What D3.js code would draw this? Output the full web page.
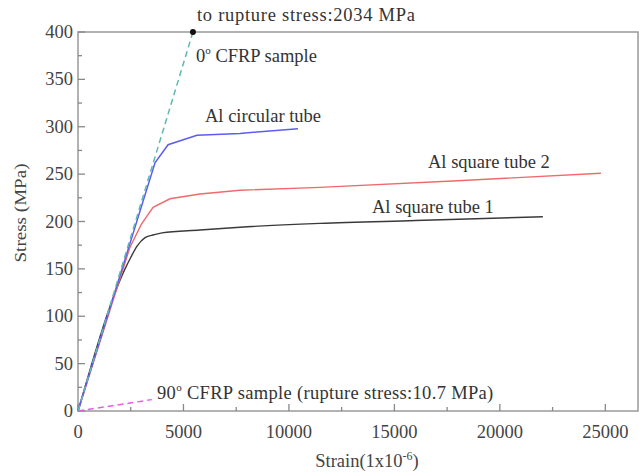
<!DOCTYPE html>
<html>
<head>
<meta charset="utf-8">
<script src="https://cdn.jsdelivr.net/npm/d3@7"></script>
<style>
  body { margin: 0; background: #fff; }
  svg text { font-family: "Liberation Serif", "Times New Roman", serif; }
</style>
</head>
<body>
<div id="chart"></div>
<script>
// curves: [strain (1e-6), stress (MPa)]
const squareTube1 = [[0,0],[2230,150],[2500,162],[2800,174],[3180,183],[3600,186],[3980,188],[5780,191],[7680,194],[11470,198],[16000,201],[22040,205]];
const squareTube2 = [[0,0],[2450,172],[3000,197],[3560,215],[4360,224],[5780,229],[7680,233],[11470,236],[18000,243],[24790,251]];
const circularTube = [[0,0],[3650,262],[4270,281],[5640,291],[7680,293],[10430,298]];
const cfrp0 = [[0,0],[5450,400]];
const cfrp90 = [[0,0],[3500,12]];

const xTicks = [0, 5000, 10000, 15000, 20000, 25000];
const yTicks = [0, 50, 100, 150, 200, 250, 300, 350, 400];

const width = 639, height = 474;
const margin = {top: 32, right: 1, bottom: 63, left: 78};
const fs = 18.5; // font size, text in the picture is rather wide

const svg = d3.select("#chart").append("svg")
    .attr("width", width)
    .attr("height", height);

const x = d3.scaleLinear().domain([0, 26550]).range([margin.left, width - margin.right]);
const y = d3.scaleLinear().domain([0, 400]).range([height - margin.bottom, margin.top]);

const g = svg.append("g");

// frame
g.append("rect")
    .attr("x", x(0)).attr("y", y(400))
    .attr("width", x.range()[1] - x(0)).attr("height", y(0) - y(400))
    .attr("fill", "none").attr("stroke", "#999").attr("stroke-width", 1.5);

// ticks, pointing inward
const xMinor = d3.range(2500, 26550, 5000);
g.selectAll(".xt").data(xTicks).join("line")
    .attr("x1", d => x(d)).attr("x2", d => x(d))
    .attr("y1", y(0)).attr("y2", y(0) - 7)
    .attr("stroke", "#888").attr("stroke-width", 1.3);
g.selectAll(".xm").data(xMinor).join("line")
    .attr("x1", d => x(d)).attr("x2", d => x(d))
    .attr("y1", y(0)).attr("y2", y(0) - 4)
    .attr("stroke", "#888").attr("stroke-width", 1.3);
g.selectAll(".yt").data(yTicks).join("line")
    .attr("x1", x(0)).attr("x2", x(0) + 7)
    .attr("y1", d => y(d)).attr("y2", d => y(d))
    .attr("stroke", "#888").attr("stroke-width", 1.3);
g.selectAll(".ym").data(d3.range(25, 400, 50)).join("line")
    .attr("x1", x(0)).attr("x2", x(0) + 4)
    .attr("y1", d => y(d)).attr("y2", d => y(d))
    .attr("stroke", "#888").attr("stroke-width", 1.3);

// tick labels
g.selectAll(".xl").data(xTicks).join("text")
    .attr("x", d => x(d)).attr("y", y(0) + 27)
    .attr("text-anchor", "middle")
    .attr("font-size", fs).attr("fill", "#444")
    .text(d => d);
g.selectAll(".yl").data(yTicks).join("text")
    .attr("x", x(0) - 5).attr("y", d => y(d) + 6)
    .attr("text-anchor", "end")
    .attr("font-size", fs).attr("fill", "#444")
    .text(d => d);

// axis titles
const xt = svg.append("text")
    .attr("x", 367).attr("y", 467)
    .attr("text-anchor", "middle")
    .attr("font-size", fs).attr("fill", "#444")
    .text("Strain(1x10");
xt.append("tspan").attr("dy", -7).attr("font-size", 12).text("-6");
xt.append("tspan").attr("dy", 7).text(")");

svg.append("text")
    .attr("transform", "translate(26,213) rotate(-90)")
    .attr("text-anchor", "middle")
    .attr("font-size", 17).attr("fill", "#444")
    .attr("textLength", 99).attr("lengthAdjust", "spacingAndGlyphs")
    .text("Stress (MPa)");

// curves
const line = d3.line().x(d => x(d[0])).y(d => y(d[1]));

g.append("path").datum(cfrp90).attr("d", line)
    .attr("fill", "none").attr("stroke", "#e85ce8").attr("stroke-width", 1.5)
    .attr("stroke-dasharray", "6,4");
g.append("path").datum(squareTube1).attr("d", line.curve(d3.curveMonotoneX))
    .attr("fill", "none").attr("stroke", "#3a3a3a").attr("stroke-width", 1.4);
g.append("path").datum(squareTube2).attr("d", line.curve(d3.curveLinear))
    .attr("fill", "none").attr("stroke", "#f06a6a").attr("stroke-width", 1.4);
g.append("path").datum(circularTube).attr("d", line)
    .attr("fill", "none").attr("stroke", "#5c5cf0").attr("stroke-width", 1.5);
g.append("path").datum(cfrp0).attr("d", line)
    .attr("fill", "none").attr("stroke", "#5fb8b4").attr("stroke-width", 1.5)
    .attr("stroke-dasharray", "6,4");
g.append("circle")
    .attr("cx", x(cfrp0[1][0])).attr("cy", y(cfrp0[1][1])).attr("r", 3)
    .attr("fill", "#111");

// annotations
function label(px, py, txt) {
    return svg.append("text").attr("x", px).attr("y", py)
        .attr("font-size", fs).attr("fill", "#333").text(txt);
}
label(197, 21, "to rupture stress:2034 MPa").attr("letter-spacing", 0.72);
const c0 = label(196, 62, "0");
c0.append("tspan").attr("dy", -8).attr("font-size", 11).text("o");
c0.append("tspan").attr("dy", 8).text(" CFRP sample");
label(205, 122, "Al circular tube");
label(428, 168, "Al square tube 2");
label(372, 213, "Al square tube 1");
const c90 = label(157, 399, "90").attr("letter-spacing", 0.32);
c90.append("tspan").attr("dy", -8).attr("font-size", 11).text("o");
c90.append("tspan").attr("dy", 8).text(" CFRP sample (rupture stress:10.7 MPa)");
</script>
</body>
</html>
